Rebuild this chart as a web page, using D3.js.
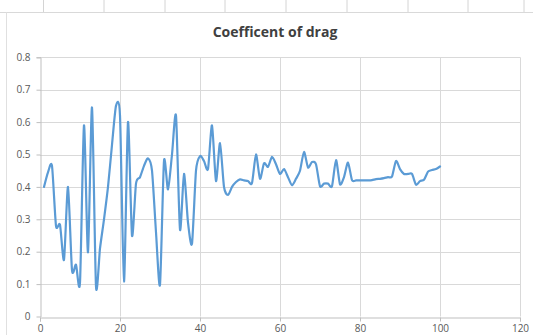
<!DOCTYPE html>
<html>
<head>
<meta charset="utf-8">
<script src="https://cdn.jsdelivr.net/npm/d3@7"></script>
<style>
  html, body { margin: 0; padding: 0; background: #ffffff; }
  svg { display: block; }
</style>
</head>
<body>
<svg id="chart" width="533" height="335"></svg>
<script>
const title = "Coefficent of drag";
const xValues = d3.range(1, 101);
const cdValues = [
  0.40, 0.445, 0.465, 0.28, 0.283, 0.175, 0.40, 0.143, 0.16, 0.105,
  0.59, 0.198, 0.645, 0.093, 0.21, 0.30, 0.40, 0.53, 0.65, 0.62,
  0.108, 0.60, 0.25, 0.41, 0.43, 0.465, 0.488, 0.45, 0.26, 0.098,
  0.48, 0.392, 0.50, 0.62, 0.268, 0.44, 0.29, 0.225, 0.45, 0.495,
  0.48, 0.455, 0.59, 0.418, 0.535, 0.40, 0.375, 0.40, 0.415, 0.423,
  0.42, 0.418, 0.412, 0.50, 0.425, 0.473, 0.462, 0.493, 0.47, 0.44,
  0.455, 0.43, 0.405, 0.425, 0.45, 0.508, 0.46, 0.477, 0.47, 0.402,
  0.41, 0.41, 0.402, 0.483, 0.408, 0.43, 0.475, 0.421, 0.42, 0.42,
  0.42, 0.42, 0.421, 0.424, 0.425, 0.427, 0.43, 0.432, 0.48, 0.455,
  0.44, 0.44, 0.44, 0.407, 0.418, 0.422, 0.447, 0.452, 0.455, 0.463
];
const xTicks = [0, 20, 40, 60, 80, 100, 120];
const yTicks = [0, 0.1, 0.2, 0.3, 0.4, 0.5, 0.6, 0.7, 0.8];

const svg = d3.select("#chart");
const W = 533, H = 335;
const font = "'Open Sans', 'Liberation Sans', sans-serif";

svg.append("rect").attr("x", 0).attr("y", 0).attr("width", W).attr("height", H).attr("fill", "#ffffff");
const colLines = [43.5, 104, 165, 225, 286, 347, 408, 468, 524];
svg.selectAll("line.col").data(colLines).join("line")
  .attr("x1", d => d).attr("x2", d => d).attr("y1", 0).attr("y2", 12)
  .attr("stroke", "#d4d4d4").attr("stroke-width", 1);
svg.append("line").attr("x1", 0).attr("x2", W).attr("y1", 12.5).attr("y2", 12.5)
  .attr("stroke", "#d9d9d9");
svg.append("line").attr("x1", 6.5).attr("x2", 6.5).attr("y1", 12.5).attr("y2", H)
  .attr("stroke", "#e0e0e0");

const x = d3.scaleLinear().domain([0, 120]).range([40, 520]);
const y = d3.scaleLinear().domain([0, 0.8]).range([316.5, 57.3]);

svg.append("g").selectAll("line").data(yTicks.slice(1)).join("line")
  .attr("x1", x(0)).attr("x2", x(120))
  .attr("y1", d => Math.round(y(d)) + 0.5).attr("y2", d => Math.round(y(d)) + 0.5)
  .attr("stroke", "#d9d9d9").attr("stroke-width", 1);
svg.append("g").selectAll("line").data(xTicks.slice(1)).join("line")
  .attr("x1", d => Math.round(x(d)) + 0.5).attr("x2", d => Math.round(x(d)) + 0.5)
  .attr("y1", y(0.8)).attr("y2", y(0))
  .attr("stroke", "#d9d9d9").attr("stroke-width", 1);

const xAxis = d3.axisBottom(x).tickValues(xTicks).tickSize(4).tickPadding(3).tickFormat(d3.format("d"));
const yAxis = d3.axisLeft(y).tickValues(yTicks).tickSize(4).tickPadding(6).tickFormat(d => d === 0 ? "0" : d3.format(".1f")(d));

const gx = svg.append("g").attr("transform", `translate(0,${Math.round(y(0)) + 0.5})`).call(xAxis);
const gy = svg.append("g").attr("transform", `translate(${Math.round(x(0)) + 0.5},0)`).call(yAxis);
[gx, gy].forEach(g => {
  g.select(".domain").attr("stroke", "#bfbfbf");
  g.selectAll(".tick line").attr("stroke", "#bfbfbf");
  g.selectAll(".tick text").attr("fill", "#595959").attr("font-family", font).attr("font-size", "10px");
});
gy.selectAll(".tick").filter(d => d === 0).select("line").remove();

const line = d3.line()
  .x((d, i) => x(xValues[i]))
  .y(d => y(d))
  .curve(d3.curveCardinal.tension(0.3));
svg.append("path").datum(cdValues)
  .attr("d", line)
  .attr("fill", "none")
  .attr("stroke", "#5b9bd5")
  .attr("stroke-width", 2.2)
  .attr("stroke-linejoin", "round")
  .attr("stroke-linecap", "round");

svg.append("text").attr("x", 275).attr("y", 37)
  .attr("text-anchor", "middle")
  .attr("font-family", font).attr("font-weight", "bold").attr("font-size", "14px")
  .attr("fill", "#404040")
  .text(title);
</script>
</body>
</html>
